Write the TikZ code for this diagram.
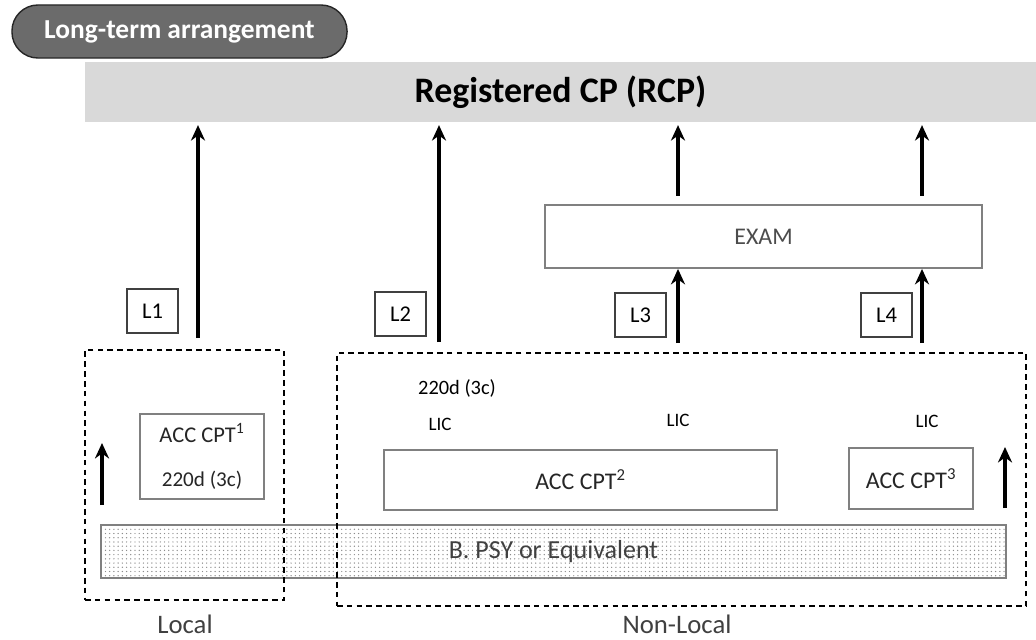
\documentclass[tikz,border=0pt]{standalone}
\usepackage{fontspec}
\setmainfont{Carlito}
\usepackage{tikz}
\usetikzlibrary{positioning,arrows.meta,patterns}
\usepackage{xcolor}

\begin{document}
\begin{tikzpicture}[x=0.025cm, y=-0.025cm, >={Stealth[length=11pt,width=10pt]},
    caja/.style={draw=black!50, line width=1.3pt, fill=white, text=black!85},
    etiqueta/.style={draw=black!75, line width=0.8pt, fill=white, minimum width=1.275cm, minimum height=1.1cm, font=\fontsize{16}{18}\selectfont},
    zona/.style={draw, dash pattern=on 4pt off 3pt, line width=1pt},
    flecha/.style={->, line width=2.2pt},
    lic/.style={font=\fontsize{13.5}{15}\selectfont}]
    \useasboundingbox (0,0) rectangle (1036,639);

    % Bloques superiores
    \node [draw=black!85, line width=1pt, fill=black!58, rounded corners=6.5mm, minimum width=8.375cm, minimum height=1.325cm, text=white, font=\bfseries\fontsize{19.5}{22}\selectfont] (plazo) at (179.5,31.5) {Long-term arrangement};
    \node [fill=black!15, minimum width=23.775cm, minimum height=1.5cm, font=\bfseries\fontsize{25.5}{30}\selectfont] (rcp) at (560.5,92) {Registered CP (RCP)};
    \node [caja, minimum width=10.925cm, minimum height=1.575cm, font=\fontsize{17}{19}\selectfont, text=black!70] (exam) at (763.5,236.5) {EXAM};

    % Base y zonas
    \node [draw=black!50, line width=1.3pt, pattern=dots, pattern color=black!45, minimum width=22.625cm, minimum height=1.325cm, font=\fontsize{18.5}{21}\selectfont, text=black!75] (bpsy) at (553.5,551.5) {B. PSY or Equivalent};
    \node [zona, minimum width=4.975cm, minimum height=6.25cm] (local) at (184.5,475) {};
    \node [zona, minimum width=17.225cm, minimum height=6.325cm] (nolocal) at (681.5,479.5) {};
    \node [font=\fontsize{19}{22}\selectfont, text=black!75] (txtlocal) at (185,624) {Local};
    \node [font=\fontsize{19}{22}\selectfont, text=black!75] (txtnolocal) at (677,624) {Non-Local};

    % Bloques ACC
    \node [caja, minimum width=3.1cm, minimum height=2.125cm, align=center, font=\fontsize{16}{19}\selectfont] (acc1) at (202,456.5) {ACC CPT\textsuperscript{1}\\[12pt]{\fontsize{15}{17}\selectfont 220d (3c)}};
    \node [caja, minimum width=9.825cm, minimum height=1.5cm, font=\fontsize{17}{19}\selectfont] (acc2) at (580.5,480) {ACC CPT\textsuperscript{2}};
    \node [caja, minimum width=3.1cm, minimum height=1.525cm, font=\fontsize{17}{19}\selectfont] (acc3) at (911,478.5) {ACC CPT\textsuperscript{3}};
    \node [font=\fontsize{14.5}{16}\selectfont] (dias) at (457,388) {220d (3c)};
    \node [lic] (lic1) at (440,424) {LIC};
    \node [lic] (lic2) at (678,420) {LIC};
    \node [lic] (lic3) at (927,421) {LIC};

    % Etiquetas L
    \node [etiqueta] (l1) at (152.5,311) {L1};
    \node [etiqueta] (l2) at (400.5,314) {L2};
    \node [etiqueta] (l3) at (640.5,315) {L3};
    \node [etiqueta] (l4) at (886.5,315) {L4};

    % Flechas
    \coordinate (s1) at (198,338);
    \coordinate (s2) at (439,342);
    \coordinate (s3) at (678,343);
    \coordinate (s4) at (922,343);
    \coordinate (s5) at (102,505);
    \coordinate (e5) at (102,443);
    \coordinate (s6) at (1005,508);
    \coordinate (e6) at (1005,447);
    \draw [flecha, shorten >=2pt] (s1) -- (s1 |- rcp.south);
    \draw [flecha, shorten >=2pt] (s2) -- (s2 |- rcp.south);
    \draw [flecha] (s3) -- (s3 |- exam.south);
    \draw [flecha] (s4) -- (s4 |- exam.south);
    \draw [flecha, shorten <=6pt, shorten >=2pt] (exam.north -| s3) -- (s3 |- rcp.south);
    \draw [flecha, shorten <=6pt, shorten >=2pt] (exam.north -| s4) -- (s4 |- rcp.south);
    \draw [flecha] (s5) -- (e5);
    \draw [flecha] (s6) -- (e6);

\end{tikzpicture}
\end{document}
